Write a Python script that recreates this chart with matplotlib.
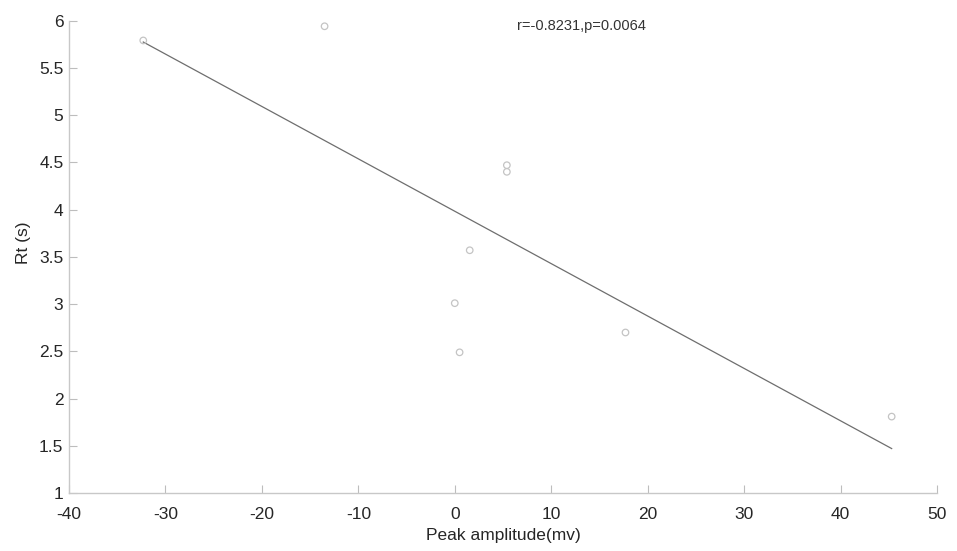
import numpy as np
import matplotlib
matplotlib.use("Agg")
import matplotlib.pyplot as plt

plt.rcParams['font.family'] = ['Liberation Sans', 'DejaVu Sans']

# data
peak_amp = [-32.3, -13.5, 5.4, 5.4, 1.55, 0.0, 0.5, 17.7, 45.3]
rt = [5.79, 5.94, 4.47, 4.40, 3.57, 3.01, 2.49, 2.70, 1.81]
stat_text = "r=-0.8231,p=0.0064"

x_ticks = list(range(-40, 51, 10))
y_ticks = [1, 1.5, 2, 2.5, 3, 3.5, 4, 4.5, 5, 5.5, 6]
y_labels = ["1", "1.5", "2", "2.5", "3", "3.5", "4", "4.5", "5", "5.5", "6"]

fig = plt.figure(figsize = (9.57, 5.51), dpi = 100)
ax = fig.add_axes([0.0721, 0.105, 0.907, 0.8576])

ax.scatter(peak_amp, rt, s = 22, facecolors = 'none', edgecolors = '#c4c4c4', linewidths = 0.9, zorder = 3)

# least squares line across the data range
k, b = np.polyfit(peak_amp, rt, 1)
xs = np.array([min(peak_amp), max(peak_amp)])
ax.plot(xs, k * xs + b, color = '#6e6e6e', lw = 0.9, zorder = 2)

ax.text(6.5, 5.94, stat_text, fontsize = 10.5, color = '#333333', ha = 'left', va = 'center')

ax.set_xlim(-40, 50)
ax.set_ylim(1, 6)
ax.set_xticks(x_ticks)
ax.set_xticklabels([str(t) for t in x_ticks])
ax.set_yticks(y_ticks)
ax.set_yticklabels(y_labels)

for s in ['top', 'right']:
  ax.spines[s].set_visible(False)
for s in ['left', 'bottom']:
  ax.spines[s].set_color('#c8c8c8')
  ax.spines[s].set_linewidth(1.0)

ax.tick_params(direction = 'in', length = 6, width = 0.8, color = '#bdbdbd', labelsize = 12.5, labelcolor = '#262626')
ax.tick_params(axis = 'x', pad = 10)
ax.tick_params(axis = 'y', pad = 4)

ax.set_xlabel("Peak amplitude(mv)", fontsize = 12.5, color = '#262626', labelpad = 4)
ax.set_ylabel("Rt (s)", fontsize = 12.5, color = '#262626')
ax.yaxis.set_label_coords(-0.044, 0.53)

fig.savefig("out.png", dpi = 100)
